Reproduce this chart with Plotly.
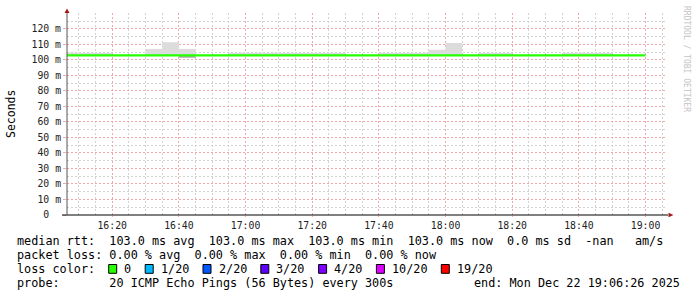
import plotly.graph_objects as go

# ---------------- data ----------------
bin_times = [
    "16:05", "16:10", "16:15", "16:20", "16:25", "16:30", "16:35", "16:40", "16:45", "16:50",
    "16:55", "17:00", "17:05", "17:10", "17:15", "17:20", "17:25", "17:30", "17:35", "17:40",
    "17:45", "17:50", "17:55", "18:00", "18:05", "18:10", "18:15", "18:20", "18:25", "18:30",
    "18:35", "18:40", "18:45", "18:50", "18:55", "19:00",
]
median_ms = [
    103.0, 103.0, 103.0, 103.0, 103.0, 103.0, 103.0, 103.0, 103.0, 103.0,
    103.0, 103.0, 103.0, 103.0, 103.0, 103.0, 103.0, 103.0, 103.0, 103.0,
    103.0, 103.0, 103.0, 103.0, 103.0, 103.0, 103.0, 103.0, 103.0, 103.0,
    103.0, 103.0, 103.0, 103.0, 103.0, 103.0,
]
smoke_hi_ms = [
    104.7, 104.7, 104.7, 103.0, 103.0, 107.0, 111.5, 107.0, 103.0, 103.0,
    104.7, 104.7, 104.7, 104.7, 104.7, 104.7, 104.7, 103.0, 103.0, 104.7,
    104.7, 104.7, 106.6, 111.0, 103.0, 104.7, 104.7, 103.0, 103.0, 103.0,
    104.7, 104.7, 104.7, 103.0, 103.0, 103.0,
]
smoke_lo_ms = [
    103.0, 103.0, 103.0, 103.0, 103.0, 103.0, 103.0, 101.5, 103.0, 103.0,
    103.0, 103.0, 103.0, 103.0, 103.0, 103.0, 103.0, 103.0, 103.0, 103.0,
    103.0, 103.0, 103.0, 103.0, 103.0, 103.0, 103.0, 103.0, 103.0, 103.0,
    103.0, 103.0, 103.0, 103.0, 103.0, 103.0,
]
y_tick_vals = [0, 10, 20, 30, 40, 50, 60, 70, 80, 90, 100, 110, 120]
y_tick_text = ["0\u00a0\u00a0", "10 m", "20 m", "30 m", "40 m", "50 m", "60 m",
               "70 m", "80 m", "90 m", "100 m", "110 m", "120 m"]

loss_labels = ["0", "1/20", "2/20", "3/20", "4/20", "10/20", "19/20"]
loss_colors = ["#26ff00", "#00b8ff", "#0059ff", "#5e00ff", "#7e00ff", "#dd00ff", "#ff0000"]

row_median = "median rtt:  103.0 ms avg  103.0 ms max  103.0 ms min  103.0 ms now  0.0 ms sd  -nan   am/s"
row_loss = "packet loss: 0.00 % avg  0.00 % max  0.00 % min  0.00 % now"
row_probe = "probe:       20 ICMP Echo Pings (56 Bytes) every 300s"
row_end = "end: Mon Dec 22 19:06:26 2025"

DAY = "2025-12-22 "
x = [DAY + t for t in bin_times]

# ---------------- geometry ----------------
W, H = 697, 297
L, R, T, B = 67, 30, 13, 82
PW, PH = W - L - R, H - T - B
MONO = "DejaVu Sans Mono"

def px(xp):
    return (xp - L) / PW

def py(yp):
    return (H - B - yp) / PH

fig = go.Figure()
fig.add_trace(go.Scatter(x=x, y=smoke_lo_ms, mode="lines", line=dict(width=0, shape="hv"),
                         hoverinfo="skip", showlegend=False))
fig.add_trace(go.Scatter(x=x, y=median_ms, mode="lines", line=dict(width=0, shape="hv"),
                         fill="tonexty", fillcolor="#aaaaaa", hoverinfo="skip", showlegend=False))
fig.add_trace(go.Scatter(x=x, y=smoke_hi_ms, mode="lines", line=dict(width=0, shape="hv"),
                         fill="tonexty", fillcolor="#dcdcdc", hoverinfo="skip", showlegend=False))
fig.add_trace(go.Scatter(x=x, y=median_ms, mode="lines", line=dict(width=2.2, shape="hv", color="#26ff00"),
                         showlegend=False))

major_grid = "#f0a8a8"
minor_grid = "#d2d2d2"
dash = "2px,2px"

fig.update_xaxes(
    type="date", range=[DAY + "16:06:26", DAY + "19:06:26"],
    tick0=DAY + "16:00", dtick=20 * 60 * 1000, tickformat="%H:%M",
    showgrid=True, gridcolor=major_grid, griddash=dash, gridwidth=1,
    minor=dict(dtick=5 * 60 * 1000, showgrid=True, gridcolor=minor_grid, griddash=dash),
    ticks="outside", ticklen=1, tickcolor=major_grid,
    tickfont=dict(family=MONO, size=9.8, color="#222"),
    showline=False, zeroline=False, fixedrange=True,
)
fig.update_yaxes(
    range=[0, 130.3], tickvals=y_tick_vals, ticktext=y_tick_text,
    showgrid=True, gridcolor=major_grid, griddash=dash, gridwidth=1,
    minor=dict(dtick=5, showgrid=True, gridcolor=minor_grid, griddash=dash),
    ticks="outside", ticklen=3, tickcolor=major_grid,
    tickfont=dict(family=MONO, size=9.8, color="#222"),
    showline=False, zeroline=False, fixedrange=True,
)

shapes = [
    # axis lines
    dict(type="line", xref="paper", yref="paper", x0=px(62), x1=px(668), y0=0, y1=0,
         line=dict(color="#000000", width=1)),
    dict(type="line", xref="paper", yref="paper", x0=0, x1=0, y0=0, y1=1,
         line=dict(color="#555555", width=1)),
    # arrows
    dict(type="path", xref="paper", yref="paper", xsizemode="pixel", ysizemode="pixel",
         xanchor=0, yanchor=1, path="M-2.5,0 L2.5,0 L0,4.5 Z",
         fillcolor="#a01818", line=dict(width=0)),
    dict(type="path", xref="paper", yref="paper", xsizemode="pixel", ysizemode="pixel",
         xanchor=1, yanchor=0, path="M1.5,-2.2 L1.5,2.2 L6.5,0 Z",
         fillcolor="#a01818", line=dict(width=0)),
]

def text(xp, yp, s, size=11.8, color="#000", xanchor="left", angle=0, yanchor="middle"):
    return dict(xref="paper", yref="paper", x=px(xp), y=py(yp), text=s.replace(" ", "\u00a0"),
                showarrow=False, xanchor=xanchor, yanchor=yanchor, textangle=angle,
                font=dict(family=MONO, size=size, color=color), borderpad=0, align="left")

ann = [
    text(11, 114, "Seconds", size=11.5, xanchor="center", angle=-90),
    text(686, 59, "RRDTOOL / TOBI OETIKER", size=8, color="#c4c4c4", xanchor="center", angle=90),
    text(16, 241.5, row_median),
    text(16, 255, row_loss),
    text(16, 269, "loss color:"),
    text(16, 283, row_probe),
    text(681, 283, row_end, xanchor="right"),
]

CW = 7.1
bx = 108.7
for lab, col in zip(loss_labels, loss_colors):
    shapes.append(dict(type="rect", xref="paper", yref="paper", x0=px(bx), x1=px(bx + 8),
                       y0=py(273.3), y1=py(264.5), fillcolor=col, line=dict(color="#000", width=1)))
    tx = bx + 14.6
    ann.append(text(tx, 269, lab))
    bx = tx + len(lab) * CW + 14.8

fig.update_layout(
    width=W, height=H, margin=dict(l=L, r=R, t=T, b=B, pad=0),
    paper_bgcolor="#ffffff", plot_bgcolor="#ffffff",
    shapes=shapes, annotations=ann, showlegend=False,
)
fig.write_html("out.html", config={"displayModeBar": False})
